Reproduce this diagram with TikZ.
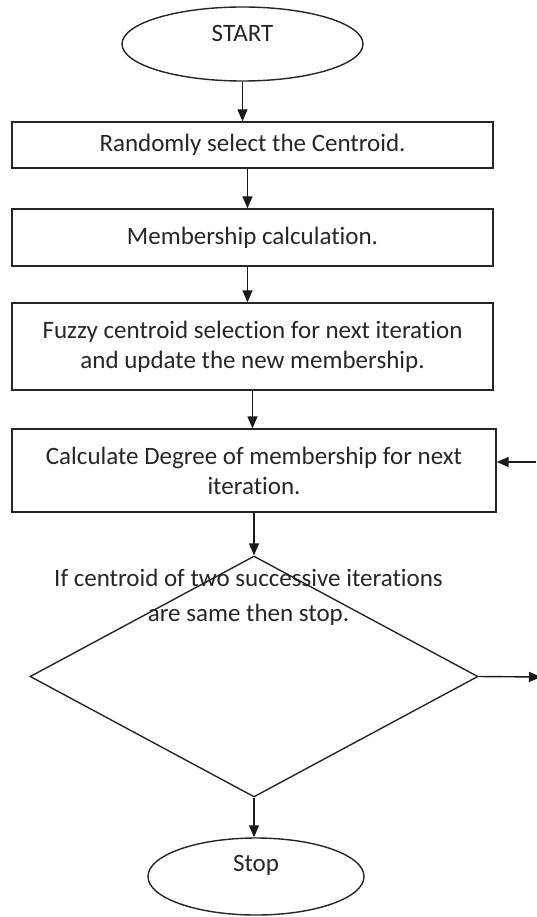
\documentclass[tikz,border=0pt]{standalone}
\usepackage{fontspec}
\setmainfont{Carlito}[Ligatures={NoCommon}]
\usetikzlibrary{shapes.geometric,arrows.meta}
\begin{document}
\begin{tikzpicture}[x=1pt,y=-1pt,
  every node/.style={font=\fontsize{25}{30}\selectfont, text=black!85},
  line/.style={draw=black!85, line width=1.4pt},
  stepbox/.style={line, rectangle, inner sep=0pt},
  oval/.style={line, ellipse, inner sep=0pt},
  txt/.style={align=center, inner sep=0pt},
  arr/.style={black!90, line width=1.4pt, -{Triangle[length=12pt,width=10pt]}}
]
\useasboundingbox (0,0) rectangle (536,917);
\node[oval, minimum width=241pt, minimum height=74pt] (s) at (242.5,44) {};
\node[txt] (stxt) at (242.5,33) {START};
\node[stepbox, minimum width=481pt, minimum height=46pt] (b1) at (252.5,145) {Randomly select the Centroid.};
\node[stepbox, minimum width=481pt, minimum height=57pt] (b2) at (252.5,237.5) {Membership calculation.};
\node[stepbox, minimum width=481pt, minimum height=87pt, align=center] (b3) at (252.5,346.5) {Fuzzy centroid selection for next iteration\\and update the new membership.};
\node[stepbox, minimum width=484pt, minimum height=83pt, align=center] (b4) at (254,470.5) {Calculate Degree of membership for next\\iteration.};
\node[line, diamond, inner sep=0pt, minimum width=448pt, minimum height=241pt] (d) at (254,676.5) {};
\node[txt, font=\fontsize{25}{35}\selectfont] (dtxt) at (248.5,597) {If centroid of two successive iterations\\are same then stop.};
\node[oval, minimum width=216pt, minimum height=77pt] (e) at (256,876.5) {};
\node[txt] (etxt) at (256,865) {Stop};
\coordinate (fb) at (536,462);
\coordinate (out) at (541,677);
\draw[arr] (s.south) -- (s.south |- b1.north);
\draw[arr] ([xshift=-5pt]b1.south) -- ([xshift=-5pt]b1.south |- b2.north);
\draw[arr] ([xshift=-5pt]b2.south) -- ([xshift=-5pt]b2.south |- b3.north);
\draw[arr] (b3.south) -- (b3.south |- b4.north);
\draw[arr] (d.north |- b4.south) -- (d.north);
\draw[arr] (d.south) -- (d.south |- e.north);
\draw[arr] (fb) -- (fb -| b4.east);
\draw[arr] (d.east) -- (out);
\end{tikzpicture}
\end{document}
